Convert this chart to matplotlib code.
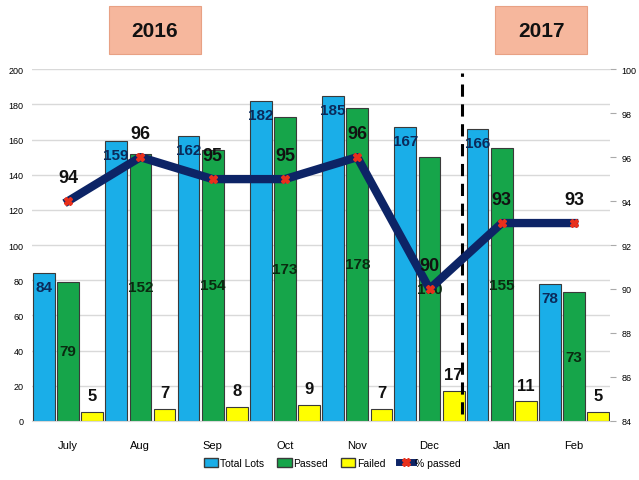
import numpy as np
import matplotlib.pyplot as plt
from matplotlib.patches import FancyBboxPatch
from matplotlib.lines import Line2D
from matplotlib.patches import Patch

months = ['July', 'Aug', 'Sep', 'Oct', 'Nov', 'Dec', 'Jan', 'Feb']
total_lots = [84, 159, 162, 182, 185, 167, 166, 78]
passed = [79, 152, 154, 173, 178, 150, 155, 73]
failed = [5, 7, 8, 9, 7, 17, 11, 5]
pct_passed = [94, 96, 95, 95, 96, 90, 93, 93]

plt.rcParams['font.family'] = ['Liberation Sans Narrow', 'Liberation Sans', 'DejaVu Sans']

fig = plt.figure(figsize=(6.39, 4.81), dpi=100)
ax = fig.add_axes([0.050, 0.123, 0.905, 0.731])
ax2 = ax.twinx()

x = np.arange(len(months))
w = 0.30
blue, green, yellow = '#1aaee8', '#16a54a', '#ffff00'
edge = '#3a3a3a'

ax.bar(x - 0.335, total_lots, w, color=blue, edgecolor=edge, linewidth=0.8, zorder=2)
ax.bar(x, passed, w, color=green, edgecolor=edge, linewidth=0.8, zorder=2)
ax.bar(x + 0.335, failed, w, color=yellow, edgecolor=edge, linewidth=0.8, zorder=2)

for i in x:
    ax.text(i - 0.335, total_lots[i] - 4, str(total_lots[i]), ha='center', va='top',
            fontsize=11, fontweight='bold', color='#0b2a5a', zorder=3)
    ax.text(i, passed[i] / 2, str(passed[i]), ha='center', va='center',
            fontsize=11, fontweight='bold', color='#0a2a10', zorder=3)
    ax.text(i + 0.335, failed[i] + 5, str(failed[i]), ha='center', va='bottom',
            fontsize=12, fontweight='bold', color='#111111', zorder=3)

ax.set_xlim(-0.5, 7.5)
ax.set_ylim(0, 200)
ax.set_yticks(range(0, 201, 20))
ax.set_xticks(x)
ax.set_xticklabels(months, fontsize=8)
ax.tick_params(axis='y', labelsize=6.5, length=0, pad=6)
ax.tick_params(axis='x', length=0, pad=14)
ax.grid(axis='y', color='#d9d9d9', linewidth=1, zorder=0)
ax.set_axisbelow(True)
for s in ax.spines.values():
    s.set_visible(False)
for s in ax2.spines.values():
    s.set_visible(False)
ax.spines['bottom'].set_visible(True)
ax.spines['bottom'].set_color('#d9d9d9')

ax2.plot(x, pct_passed, color='#0d2466', linewidth=6, zorder=4, solid_joinstyle='round')
ax2.plot(x, pct_passed, linestyle='none', marker='X', markersize=6, color='#e8301c', zorder=5)
for i in x:
    ax2.text(i, pct_passed[i] + 0.7, str(pct_passed[i]), ha='center', va='bottom',
             fontsize=13, fontweight='bold', color='#111111', zorder=6)
ax2.set_ylim(84, 100)
ax2.set_yticks(range(84, 101, 2))
ax2.tick_params(axis='y', labelsize=6.5, length=4, color='#aaaaaa', pad=4)

ax.axvline(5.45, ymin=0.02, ymax=0.99, color='black', linestyle=(0, (4, 2.5)), linewidth=2.2, zorder=6)

# year boxes
for xc, label in [(0.242, '2016'), (0.847, '2017')]:
    box = FancyBboxPatch((xc - 0.072, 0.885), 0.144, 0.10, boxstyle='square,pad=0',
                         transform=fig.transFigure, facecolor='#f6b79d',
                         edgecolor='#e8a184', linewidth=0.8)
    fig.patches.append(box)
    fig.text(xc, 0.935, label, ha='center', va='center', fontsize=15,
             fontweight='bold', color='#111111')

handles = [
    Patch(facecolor=blue, edgecolor=edge, label='Total Lots'),
    Patch(facecolor=green, edgecolor=edge, label='Passed'),
    Patch(facecolor=yellow, edgecolor=edge, label='Failed'),
    Line2D([0], [0], color='#0d2466', linewidth=5, marker='X', markersize=6,
           markerfacecolor='#e8301c', markeredgecolor='#e8301c', label='% passed'),
]
fig.legend(handles=handles, loc='center', bbox_to_anchor=(0.52, 0.035), ncol=4,
           frameon=False, fontsize=7.5, handlelength=1.4, handleheight=0.9,
           columnspacing=1.2, handletextpad=0.2)

fig.savefig('out.png', dpi=100)
